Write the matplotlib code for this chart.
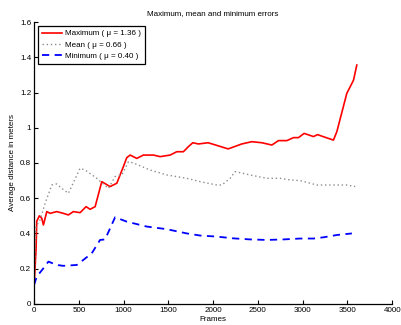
import numpy as np
import matplotlib
matplotlib.use("Agg")
import matplotlib.pyplot as plt

plt.rcParams['font.family'] = ['Liberation Sans', 'DejaVu Sans']

# Maximum error curve (frames, meters)
max_frames = [0, 22, 30, 59, 86, 104, 142, 179, 253, 327, 383, 439, 514, 581, 626, 682,
              756, 849, 924, 998, 1035, 1073, 1147, 1221, 1333, 1408, 1520, 1594, 1668,
              1724, 1773, 1836, 1944, 2168, 2320, 2432, 2544, 2656, 2730, 2823, 2898,
              2953, 3017, 3121, 3166, 3251, 3344, 3382, 3493, 3568, 3605]
max_err = [0.10, 0.31, 0.47, 0.50, 0.486, 0.448, 0.524, 0.514, 0.524, 0.514, 0.505, 0.524,
           0.518, 0.552, 0.537, 0.552, 0.694, 0.666, 0.685, 0.78, 0.83, 0.845, 0.826,
           0.845, 0.845, 0.836, 0.845, 0.864, 0.864, 0.893, 0.915, 0.908, 0.915, 0.88,
           0.908, 0.921, 0.915, 0.902, 0.927, 0.927, 0.944, 0.944, 0.968, 0.95, 0.961,
           0.946, 0.93, 0.978, 1.195, 1.27, 1.356]

# Mean error curve
mean_frames = [0, 22, 67, 123, 198, 253, 309, 383, 514, 570, 700, 830, 905, 980, 1054,
               1110, 1296, 1483, 1706, 1855, 2041, 2097, 2190, 2246, 2413, 2600, 2749,
               2860, 2972, 3159, 3344, 3493, 3587]
mean_err = [0.10, 0.44, 0.477, 0.571, 0.675, 0.681, 0.656, 0.628, 0.77, 0.76, 0.713,
            0.656, 0.723, 0.732, 0.807, 0.80, 0.76, 0.732, 0.713, 0.694, 0.675, 0.675,
            0.713, 0.751, 0.732, 0.713, 0.713, 0.704, 0.70, 0.675, 0.675, 0.675, 0.666]

# Minimum error curve
min_frames = [0, 30, 104, 160, 253, 327, 477, 551, 644, 737, 793, 905, 1035, 1259, 1483,
              1706, 1855, 2041, 2227, 2413, 2600, 2786, 2972, 3121, 3233, 3382, 3550]
min_err = [0.108, 0.155, 0.202, 0.24, 0.221, 0.216, 0.221, 0.25, 0.287, 0.363, 0.366,
           0.492, 0.467, 0.439, 0.424, 0.40, 0.388, 0.382, 0.372, 0.366, 0.363, 0.366,
           0.371, 0.371, 0.378, 0.391, 0.40]

labels = ["Maximum ( \u03bc = 1.36 )", "Mean ( \u03bc = 0.66 )", "Minimum ( \u03bc = 0.40 )"]

fs = 5.8

fig = plt.figure(figsize=(4.01, 3.25), dpi=100)
ax = fig.add_axes([0.085, 0.065, 0.893, 0.867])

ax.plot(max_frames, max_err, color="red", lw=1.2, label=labels[0])
ax.plot(mean_frames, mean_err, color="#8c8c8c", lw=1.0, ls=(0, (1, 2)), label=labels[1])
ax.plot(min_frames, min_err, color="blue", lw=1.3, ls=(0, (4, 3)), label=labels[2])

ax.set_xlim(0, 4000)
ax.set_ylim(0, 1.6)
ax.set_xticks(np.arange(0, 4001, 500))
ax.set_yticks([0, 0.2, 0.4, 0.6, 0.8, 1, 1.2, 1.4, 1.6])
ax.set_yticklabels(["0", "0.2", "0.4", "0.6", "0.8", "1", "1.2", "1.4", "1.6"])
ax.tick_params(direction="in", labelsize=fs, length=3, width=0.8, pad=2)
ax.spines["top"].set_visible(False)
ax.spines["right"].set_visible(False)
ax.spines["left"].set_linewidth(0.9)
ax.spines["bottom"].set_linewidth(0.9)

ax.set_title("Maximum, mean and minimum errors", fontsize=fs, pad=5)
ax.set_xlabel("Frames", fontsize=fs, labelpad=1.5)
ax.set_ylabel("Average distance in meters", fontsize=fs, labelpad=3)

leg = ax.legend(loc="upper left", fontsize=fs, fancybox=False, framealpha=1,
                edgecolor="black", handlelength=2.5, handletextpad=0.4,
                borderaxespad=0.45, labelspacing=0.45, borderpad=0.5)
leg.get_frame().set_linewidth(0.9)

fig.savefig("out.png", dpi=100)
